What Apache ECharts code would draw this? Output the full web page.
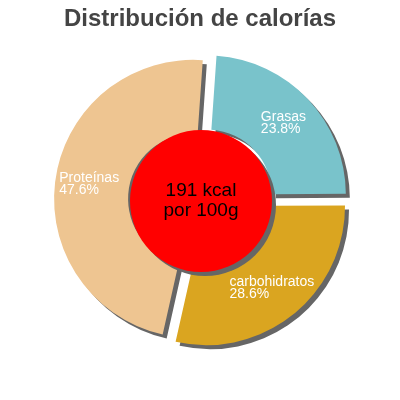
<!DOCTYPE html>
<html>
<head>
<meta charset="utf-8">
<script src="https://cdn.jsdelivr.net/npm/echarts@6/dist/echarts.min.js"></script>
<style>html,body{margin:0;padding:0;background:#fff}#c{width:400px;height:400px}</style>
</head>
<body>
<div id="c"></div>
<script>
const titleText = 'Distribución de calorías';
const categories = ['Grasas', 'carbohidratos', 'Proteínas'];
const percentValues = [23.8, 28.6, 47.6];
const sliceColors = ['#79c3cb', '#daa520', '#eec591'];
const centerLines = ['191 kcal', 'por 100g'];

const chart = echarts.init(document.getElementById('c'), null, {renderer: 'canvas'});
const shadow = {shadowColor: '#666', shadowOffsetX: 4, shadowOffsetY: 4, shadowBlur: 0};
chart.setOption({
  animation: false,
  title: {
    text: titleText, left: 'center', top: 2,
    textStyle: {fontFamily: 'Liberation Sans', fontSize: 24, fontWeight: 'bold', color: '#444'}
  },
  series: [
    {
      type: 'pie',
      center: [201, 200],
      radius: [65, 139],
      startAngle: 86,
      clockwise: true,
      selectedMode: 'multiple',
      selectedOffset: 8,
      percentPrecision: 1,
      emphasis: {disabled: true},
      silent: true,
      label: {
        position: 'inside',
        formatter: '{t|{b}}\n{t|{d}%}',
        rich: {t: {align: 'left', color: '#fff', fontFamily: 'Liberation Sans', fontSize: 14, lineHeight: 12}}
      },
      labelLine: {show: false},
      itemStyle: Object.assign({borderWidth: 0}, shadow),
      data: categories.map((n, i) => ({name: n, value: percentValues[i], selected: true, itemStyle: {color: sliceColors[i]}}))
    },
    {
      type: 'pie',
      center: [201, 201],
      radius: [0, 71],
      silent: true,
      emphasis: {disabled: true},
      label: {
        position: 'center',
        formatter: centerLines.join('\n'),
        color: '#000', fontFamily: 'Liberation Sans', fontSize: 19, lineHeight: 20
      },
      labelLine: {show: false},
      itemStyle: Object.assign({color: '#ff0000'}, shadow),
      data: [{name: 'kcal', value: 1}]
    }
  ]
});
</script>
</body>
</html>
